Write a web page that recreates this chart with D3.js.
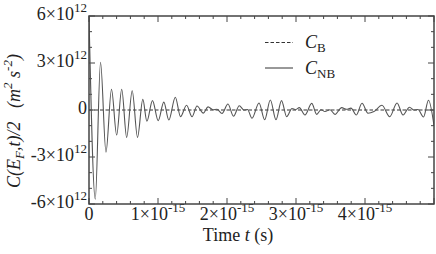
<!DOCTYPE html>
<meta charset="utf-8">
<script src="https://d3js.org/d3.v7.min.js"></script>
<style>
  body { margin: 0; background: #fff; }
</style>
<div id="chart"></div>
<script>

// time in units of 1e-15 s, C in units of 1e12 m^2 s^-2
// extrema of the non-Born curve
var nbTimes = [0.000, 0.091, 0.167, 0.246, 0.326, 0.401, 0.474, 0.546, 0.626, 0.703,
               0.780, 0.839, 0.920, 1.003, 1.084, 1.157, 1.251, 1.326, 1.414, 1.493,
               1.565, 1.657, 1.725, 1.797, 1.855, 1.928, 2.014, 2.094, 2.178, 2.246,
               2.297, 2.362, 2.464, 2.546, 2.628, 2.710, 2.790, 2.865, 2.942, 2.993,
               3.048, 3.130, 3.228, 3.300, 3.362, 3.420, 3.493, 3.565, 3.662, 3.732,
               3.797, 3.874, 3.957, 4.043, 4.130, 4.246, 4.358, 4.464, 4.551, 4.645,
               4.710, 4.768, 4.848, 4.920, 5.000];
var nbValues = [6.0, -5.7, 3.05, -2.7, 1.32, -1.6, 1.32, -1.75, 1.23, -1.75,
                0.68, -0.72, 0.6, -0.68, 0.5, -0.64, 0.81, -0.42, 0.3, -0.43,
                0.26, -0.2, 0.2, 0.02, 0.05, -0.22, 0.38, -0.4, 0.27, 0.0,
                0.03, -0.53, 0.45, -0.62, 0.64, -0.62, 0.6, -0.43, 0.1, 0.02,
                0.15, -0.32, 0.42, -0.28, 0.02, -0.1, 0.02, -0.28, 0.15, 0.05,
                0.12, -0.32, 0.43, -0.21, -0.1, 0.3, -0.43, 0.45, -0.32, 0.18,
                0.0, 0.03, -0.45, 0.62, -1.0];

// Born curve is flat at zero
var bTimes = [0, 5];
var bValues = [0, 0];

var xTicks = [0, 1, 2, 3, 4];
var xTickLabels = ["0", "1×10|-15", "2×10|-15", "3×10|-15", "4×10|-15"];
var yTicks = [6, 3, 0, -3, -6];
var yTickLabels = ["6×10|12", "3×10|12", "0", "-3×10|12", "-6×10|12"];

var W = 436, H = 254;
var margin = {top: 16, right: 2, bottom: 50, left: 89},
    width = W - margin.left - margin.right,
    height = H - margin.top - margin.bottom;

var svg = d3.select("#chart")
  .append("svg")
    .attr("width", W)
    .attr("height", H)
    .style("font-family", "'Liberation Serif', 'Times New Roman', serif")
  .append("g")
    .attr("transform", "translate(" + margin.left + "," + margin.top + ")");

var x = d3.scaleLinear().domain([0, 5]).range([0, width]);
var y = d3.scaleLinear().domain([-6, 6]).range([height, 0]);

svg.append("clipPath").attr("id", "clip")
  .append("rect").attr("width", width).attr("height", height);

// minor + major ticks on all four sides, pointing inward
var xMinor = d3.range(0, 26).map(function(i) { return i * 0.2; });
var yMinor = d3.range(-6, 7);

function tickLines(vals, isX, side) {
  svg.append("g").selectAll("line")
    .data(vals)
    .enter().append("line")
      .attr("stroke", "#444")
      .attr("stroke-width", 1)
      .each(function(d) {
        var major = isX ? Math.abs(d - Math.round(d)) < 1e-6 : (d % 3 === 0);
        var len = major ? 6 : 3;
        var el = d3.select(this);
        if (isX) {
          var px = x(d), y0 = side === "bottom" ? height : 0;
          el.attr("x1", px).attr("x2", px).attr("y1", y0)
            .attr("y2", side === "bottom" ? y0 - len : y0 + len);
        } else {
          var py = y(d), x0 = side === "left" ? 0 : width;
          el.attr("y1", py).attr("y2", py).attr("x1", x0)
            .attr("x2", side === "left" ? x0 + len : x0 - len);
        }
      });
}
tickLines(xMinor, true, "bottom");
tickLines(xMinor, true, "top");
tickLines(yMinor, false, "left");
tickLines(yMinor, false, "right");

// tick labels with superscripts
function expLabel(sel, label, supSize) {
  var parts = label.split("|");
  sel.append("tspan").text(parts[0]);
  if (parts.length > 1) {
    sel.append("tspan").attr("font-size", supSize).attr("dy", -8).text(parts[1]);
  }
}

svg.append("g").selectAll("text")
  .data(xTicks)
  .enter().append("text")
    .attr("x", function(d) { return x(d); })
    .attr("y", height + 16)
    .attr("font-size", 18)
    .attr("fill", "#222")
    .attr("text-anchor", "middle")
    .each(function(d, i) { expLabel(d3.select(this), xTickLabels[i], 13); });

svg.append("g").selectAll("text")
  .data(yTicks)
  .enter().append("text")
    .attr("x", -2)
    .attr("y", function(d) { return y(d) + 4; })
    .attr("font-size", 18)
    .attr("fill", "#222")
    .attr("text-anchor", "end")
    .each(function(d, i) { expLabel(d3.select(this), yTickLabels[i], 13); });

// curves
var line = d3.line()
  .x(function(d) { return x(d[0]); })
  .y(function(d) { return y(d[1]); });

svg.append("path")
  .datum(bTimes.map(function(t, i) { return [t, bValues[i]]; }))
  .attr("clip-path", "url(#clip)")
  .attr("fill", "none")
  .attr("stroke", "#333")
  .attr("stroke-width", 1)
  .attr("stroke-dasharray", "3.5,2")
  .attr("d", line);

svg.append("path")
  .datum(nbTimes.map(function(t, i) { return [t, nbValues[i]]; }))
  .attr("clip-path", "url(#clip)")
  .attr("fill", "none")
  .attr("stroke", "#555")
  .attr("stroke-width", 1.1)
  .attr("d", line.curve(d3.curveMonotoneX));

// frame
svg.append("rect")
  .attr("width", width)
  .attr("height", height)
  .attr("fill", "none")
  .attr("stroke", "#444")
  .attr("stroke-width", 1.5);

// legend
var legend = svg.append("g").attr("transform", "translate(176,0)");
legend.append("line")
  .attr("x1", 0).attr("x2", 28).attr("y1", 26.5).attr("y2", 26.5)
  .attr("stroke", "#333").attr("stroke-dasharray", "3.5,2");
legend.append("line")
  .attr("x1", 0).attr("x2", 28).attr("y1", 52).attr("y2", 52)
  .attr("stroke", "#333");
var lb = legend.append("text").attr("x", 40).attr("y", 32).attr("font-size", 18).attr("fill", "#222");
lb.append("tspan").attr("font-style", "italic").text("C");
lb.append("tspan").attr("font-size", 13).attr("dy", 4).text("B");
var lnb = legend.append("text").attr("x", 40).attr("y", 58).attr("font-size", 18).attr("fill", "#222");
lnb.append("tspan").attr("font-style", "italic").text("C");
lnb.append("tspan").attr("font-size", 13).attr("dy", 4).text("NB");

// axis titles
var xt = svg.append("text")
  .attr("x", 149)
  .attr("y", height + 37)
  .attr("font-size", 18)
  .attr("fill", "#222")
  .attr("text-anchor", "middle");
xt.append("tspan").text("Time ");
xt.append("tspan").attr("font-style", "italic").text("t");
xt.append("tspan").text(" (s)");

var yt = svg.append("text")
  .attr("transform", "translate(" + (20 - margin.left) + "," + (121 - margin.top) + ") rotate(-90)")
  .attr("font-size", 18)
  .attr("fill", "#222")
  .attr("font-style", "italic")
  .attr("text-anchor", "middle");
yt.append("tspan").text("C(E");
yt.append("tspan").attr("font-size", 13).attr("dy", 4).text("F");
yt.append("tspan").attr("dy", -4).text(",t)/2\u00a0\u00a0\u00a0(m");
yt.append("tspan").attr("font-size", 13).attr("dy", -8).text("2");
yt.append("tspan").attr("dy", 8).text(" s");
yt.append("tspan").attr("font-size", 13).attr("dy", -8).text("-2");
yt.append("tspan").attr("dy", 8).text(")");

</script>
